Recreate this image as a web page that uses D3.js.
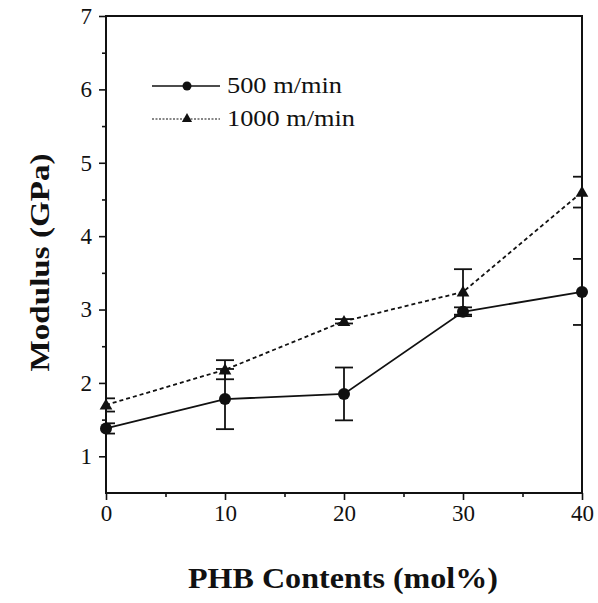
<!DOCTYPE html>
<html>
<head>
<meta charset="utf-8">
<script src="https://cdn.jsdelivr.net/npm/d3@7"></script>
<style>
  html, body { margin: 0; padding: 0; background: #fff; }
  svg { display: block; }
  text { font-family: "Liberation Serif", "Times New Roman", serif; fill: #111; }
</style>
</head>
<body>
<script>
// ---- data ----
const phbContents = [0, 10, 20, 30, 40];
const modulus500 = [1.38, 1.78, 1.85, 2.97, 3.24];
const error500 = [0.07, 0.41, 0.36, 0.06, 0.45];
const modulus1000 = [1.70, 2.18, 2.84, 3.24, 4.60];
const error1000 = [0.09, 0.13, 0.03, 0.31, 0.21];
const seriesNames = ["500 m/min", "1000 m/min"];
const xTickValues = [0, 10, 20, 30, 40];
const xMinorTicks = [5, 15, 25, 35];
const yTickValues = [1, 2, 3, 4, 5, 6, 7];
const yMinorTicks = [1.5, 2.5, 3.5, 4.5, 5.5, 6.5];
const xTitle = "PHB Contents (mol%)";
const yTitle = "Modulus (GPa)";

const W = 598, H = 603;
const pLeft = 106, pRight = 582, pTop = 16, pBottom = 493;

const svg = d3.select("body").append("svg").attr("width", W).attr("height", H);

const x = d3.scaleLinear().domain([0, 40]).range([pLeft, pRight]);
const y = d3.scaleLinear().domain([0.5, 7]).range([pBottom, pTop]);

svg.append("defs").append("clipPath").attr("id", "plotclip")
  .append("rect").attr("x", pLeft).attr("y", pTop).attr("width", pRight - pLeft).attr("height", pBottom - pTop);

// axes
const yAxis = svg.append("g").attr("transform", `translate(${pLeft},0)`)
  .call(d3.axisLeft(y).tickValues(yTickValues).tickSize(7).tickPadding(7).tickFormat(d3.format("d")));
const yMinor = svg.append("g").attr("transform", `translate(${pLeft},0)`)
  .call(d3.axisLeft(y).tickValues(yMinorTicks).tickSize(4).tickFormat(""));
const xAxis = svg.append("g").attr("transform", `translate(0,${pBottom})`)
  .call(d3.axisBottom(x).tickValues(xTickValues).tickSize(7).tickPadding(5).tickFormat(d3.format("d")));
const xMinor = svg.append("g").attr("transform", `translate(0,${pBottom})`)
  .call(d3.axisBottom(x).tickValues(xMinorTicks).tickSize(4).tickFormat(""));

[yAxis, yMinor, xAxis, xMinor].forEach(g => {
  g.select(".domain").remove();
  g.selectAll(".tick line").attr("stroke", "#111").attr("stroke-width", 1.6);
  g.selectAll(".tick text").attr("font-size", 23).attr("fill", "#111")
    .style("font-family", "'Liberation Serif', serif");
});

// frame
svg.append("rect").attr("x", pLeft).attr("y", pTop).attr("width", pRight - pLeft).attr("height", pBottom - pTop)
  .attr("fill", "none").attr("stroke", "#111").attr("stroke-width", 2);

// titles
svg.append("text")
  .attr("transform", `translate(49,${(pTop + pBottom) / 2 + 8}) rotate(-90)`)
  .attr("text-anchor", "middle")
  .attr("font-size", 28).attr("font-weight", "bold")
  .attr("textLength", 218).attr("lengthAdjust", "spacingAndGlyphs")
  .text(yTitle);

svg.append("text")
  .attr("x", 343).attr("y", 588)
  .attr("text-anchor", "middle")
  .attr("font-size", 29).attr("font-weight", "bold")
  .attr("textLength", 310).attr("lengthAdjust", "spacingAndGlyphs")
  .text(xTitle);

// series
const series = [
  { name: seriesNames[0], vals: modulus500, errs: error500, dash: null, marker: "circle" },
  { name: seriesNames[1], vals: modulus1000, errs: error1000, dash: "4,3", marker: "triangle" }
];

const line = d3.line().x(d => x(d[0])).y(d => y(d[1]));
const triangle = d3.symbol().type(d3.symbolTriangle).size(70);

series.forEach(s => {
  const pts = phbContents.map((c, i) => [c, s.vals[i], s.errs[i]]);
  const eb = svg.append("g").attr("clip-path", "url(#plotclip)")
    .attr("stroke", "#111").attr("stroke-width", 1.8).attr("fill", "none");
  pts.forEach(p => {
    const cx = x(p[0]), y1 = y(p[1] + p[2]), y2 = y(p[1] - p[2]);
    eb.append("line").attr("x1", cx).attr("x2", cx).attr("y1", y1).attr("y2", y2);
    eb.append("line").attr("x1", cx - 9).attr("x2", cx + 9).attr("y1", y1).attr("y2", y1);
    eb.append("line").attr("x1", cx - 9).attr("x2", cx + 9).attr("y1", y2).attr("y2", y2);
  });
  svg.append("path").datum(pts).attr("d", line)
    .attr("fill", "none").attr("stroke", "#111").attr("stroke-width", 1.8)
    .attr("stroke-dasharray", s.dash);
  const mk = svg.append("g");
  pts.forEach(p => {
    if (s.marker === "circle") {
      mk.append("circle").attr("cx", x(p[0])).attr("cy", y(p[1])).attr("r", 6).attr("fill", "#111");
    } else {
      mk.append("path").attr("d", triangle).attr("transform", `translate(${x(p[0])},${y(p[1]) + 1})`).attr("fill", "#111");
    }
  });
});

// legend
const legend = svg.append("g");
const legendRows = [
  { y: 86, dash: null, width: 1.5, marker: "circle", len: 115 },
  { y: 119, dash: "2,1.5", width: 1.1, marker: "triangle", len: 128 }
];
legendRows.forEach((r, i) => {
  legend.append("line").attr("x1", 152).attr("x2", 220).attr("y1", r.y).attr("y2", r.y)
    .attr("stroke", "#111").attr("stroke-width", r.width).attr("stroke-dasharray", r.dash);
  if (r.marker === "circle") {
    legend.append("circle").attr("cx", 187).attr("cy", r.y).attr("r", 4.5).attr("fill", "#111");
  } else {
    legend.append("path").attr("d", d3.symbol().type(d3.symbolTriangle).size(45))
      .attr("transform", `translate(187,${r.y})`).attr("fill", "#111");
  }
  legend.append("text").attr("x", 227).attr("y", r.y + 7).attr("font-size", 23)
    .attr("textLength", r.len).attr("lengthAdjust", "spacingAndGlyphs")
    .text(seriesNames[i]);
});
</script>
</body>
</html>
